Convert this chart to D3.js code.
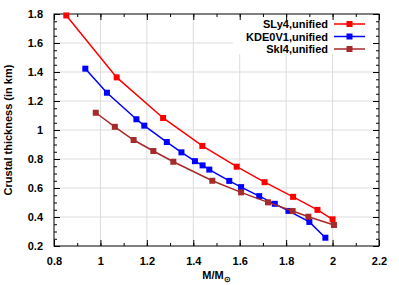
<!DOCTYPE html>
<html>
<head>
<meta charset="utf-8">
<script src="https://cdn.jsdelivr.net/npm/d3@7"></script>
<style>
  body { margin: 0; background: #fff; }
  text { font-family: "Liberation Sans", Arial, sans-serif; font-weight: bold; }
</style>
</head>
<body>
<div id="chart"></div>
<script>
// values
const sly4Mass = [0.853, 1.070, 1.270, 1.439, 1.587, 1.707, 1.830, 1.935, 2.0];
const sly4Crust = [1.79, 1.363, 1.083, 0.890, 0.747, 0.640, 0.539, 0.449, 0.384];

const kdeMass = [0.935, 1.028, 1.155, 1.189, 1.286, 1.349, 1.407, 1.440, 1.469, 1.555, 1.606, 1.684, 1.751, 1.810, 1.900, 1.969];
const kdeCrust = [1.423, 1.257, 1.074, 1.030, 0.917, 0.846, 0.785, 0.756, 0.727, 0.649, 0.606, 0.544, 0.491, 0.442, 0.366, 0.257];

const ski4Mass = [0.980, 1.062, 1.143, 1.228, 1.314, 1.482, 1.606, 1.722, 1.828, 1.896, 2.006];
const ski4Crust = [1.119, 1.022, 0.931, 0.855, 0.781, 0.650, 0.570, 0.501, 0.441, 0.402, 0.345];

const seriesNames = ["SLy4,unified", "KDE0V1,unified", "SkI4,unified"];
const seriesColors = ["#ff0000", "#0000ff", "#a52a2a"];

const xTicks = [0.8, 1, 1.2, 1.4, 1.6, 1.8, 2, 2.2];
const yTicks = [0.2, 0.4, 0.6, 0.8, 1, 1.2, 1.4, 1.6, 1.8];

const series = [
  { name: seriesNames[0], color: seriesColors[0], pts: sly4Mass.map((m, i) => [m, sly4Crust[i]]) },
  { name: seriesNames[1], color: seriesColors[1], pts: kdeMass.map((m, i) => [m, kdeCrust[i]]) },
  { name: seriesNames[2], color: seriesColors[2], pts: ski4Mass.map((m, i) => [m, ski4Crust[i]]) }
];

const W = 399, H = 285;
const margin = { top: 14, right: 20, bottom: 39, left: 54 },
  width = W - margin.left - margin.right,
  height = H - margin.top - margin.bottom;

const svg = d3.select("#chart")
  .append("svg")
  .attr("width", W)
  .attr("height", H);

const g = svg.append("g")
  .attr("transform", `translate(${margin.left}, ${margin.top})`);

const x = d3.scaleLinear().domain([0.8, 2.2]).range([0, width]);
const y = d3.scaleLinear().domain([0.2, 1.8]).range([height, 0]);

// grid
g.append("g")
  .selectAll("line")
  .data(xTicks.slice(1, -1))
  .enter().append("line")
  .attr("x1", d => x(d)).attr("x2", d => x(d))
  .attr("y1", 0).attr("y2", height)
  .attr("stroke", "#dcdcdc").attr("stroke-width", 1);
g.append("g")
  .selectAll("line")
  .data(yTicks.slice(1, -1))
  .enter().append("line")
  .attr("y1", d => y(d)).attr("y2", d => y(d))
  .attr("x1", 0).attr("x2", width)
  .attr("stroke", "#dcdcdc").attr("stroke-width", 1);

// legend background hides grid
g.append("rect")
  .attr("x", x(1.57)).attr("y", 0)
  .attr("width", width - x(1.57)).attr("height", 40)
  .attr("fill", "#fff");

// axes with inward ticks
const xMinor = d3.range(0.8, 2.2001, 0.1);
const yMinor = d3.range(0.2, 1.8001, 0.05);

function axisStyle(sel) {
  sel.select(".domain").remove();
  sel.selectAll("line").attr("stroke", "#000");
}

g.append("g").attr("transform", `translate(0, ${height})`)
  .call(d3.axisBottom(x).tickValues(xMinor).tickSize(-3).tickFormat(""))
  .call(axisStyle);
g.append("g").attr("transform", `translate(0, ${height})`)
  .call(d3.axisBottom(x).tickValues(xTicks).tickSize(-6).tickPadding(11).tickFormat(d3.format("")))
  .call(axisStyle)
  .selectAll("text").attr("font-size", 11).attr("fill", "#000");
g.append("g")
  .call(d3.axisTop(x).tickValues(xMinor).tickSize(-3).tickFormat(""))
  .call(axisStyle);
g.append("g")
  .call(d3.axisTop(x).tickValues(xTicks).tickSize(-6).tickFormat(""))
  .call(axisStyle);

g.append("g")
  .call(d3.axisLeft(y).tickValues(yMinor).tickSize(-3).tickFormat(""))
  .call(axisStyle);
g.append("g")
  .call(d3.axisLeft(y).tickValues(yTicks).tickSize(-6).tickPadding(11).tickFormat(d3.format("")))
  .call(axisStyle)
  .selectAll("text").attr("font-size", 11).attr("fill", "#000");
g.append("g").attr("transform", `translate(${width}, 0)`)
  .call(d3.axisRight(y).tickValues(yMinor).tickSize(-3).tickFormat(""))
  .call(axisStyle);
g.append("g").attr("transform", `translate(${width}, 0)`)
  .call(d3.axisRight(y).tickValues(yTicks).tickSize(-6).tickFormat(""))
  .call(axisStyle);

// frame
g.append("rect")
  .attr("width", width).attr("height", height)
  .attr("fill", "none").attr("stroke", "#000").attr("stroke-width", 1);

// series
const line = d3.line().x(d => x(d[0])).y(d => y(d[1]));
series.forEach(s => {
  g.append("path")
    .attr("d", line(s.pts))
    .attr("fill", "none")
    .attr("stroke", s.color)
    .attr("stroke-width", 1.5);
  g.append("g").selectAll("rect")
    .data(s.pts)
    .enter().append("rect")
    .attr("x", d => x(d[0]) - 3)
    .attr("y", d => y(d[1]) - 3)
    .attr("width", 6).attr("height", 6)
    .attr("fill", s.color);
});

// legend
const leg = g.append("g").attr("transform", `translate(${width - 45}, 10)`);
series.forEach((s, i) => {
  const row = leg.append("g").attr("transform", `translate(0, ${i * 12.5})`);
  row.append("text")
    .attr("x", -6).attr("y", 4)
    .attr("text-anchor", "end")
    .attr("font-size", 11)
    .text(s.name);
  row.append("line")
    .attr("x1", 0).attr("x2", 31).attr("y1", 0).attr("y2", 0)
    .attr("stroke", s.color).attr("stroke-width", 1.5);
  row.append("rect")
    .attr("x", 12.5).attr("y", -3).attr("width", 6).attr("height", 6)
    .attr("fill", s.color);
});

// axis titles
svg.append("text")
  .attr("transform", `translate(12, ${margin.top + height / 2}) rotate(-90)`)
  .attr("text-anchor", "middle")
  .attr("font-size", 11)
  .text("Crustal thickness (in km)");

const xt = svg.append("text")
  .attr("x", margin.left + x(1.5))
  .attr("y", 279)
  .attr("text-anchor", "middle")
  .attr("font-size", 11);
xt.append("tspan").text("M/M");
xt.append("tspan").attr("dy", 3).attr("font-size", 8).text("⊙");
</script>
</body>
</html>
